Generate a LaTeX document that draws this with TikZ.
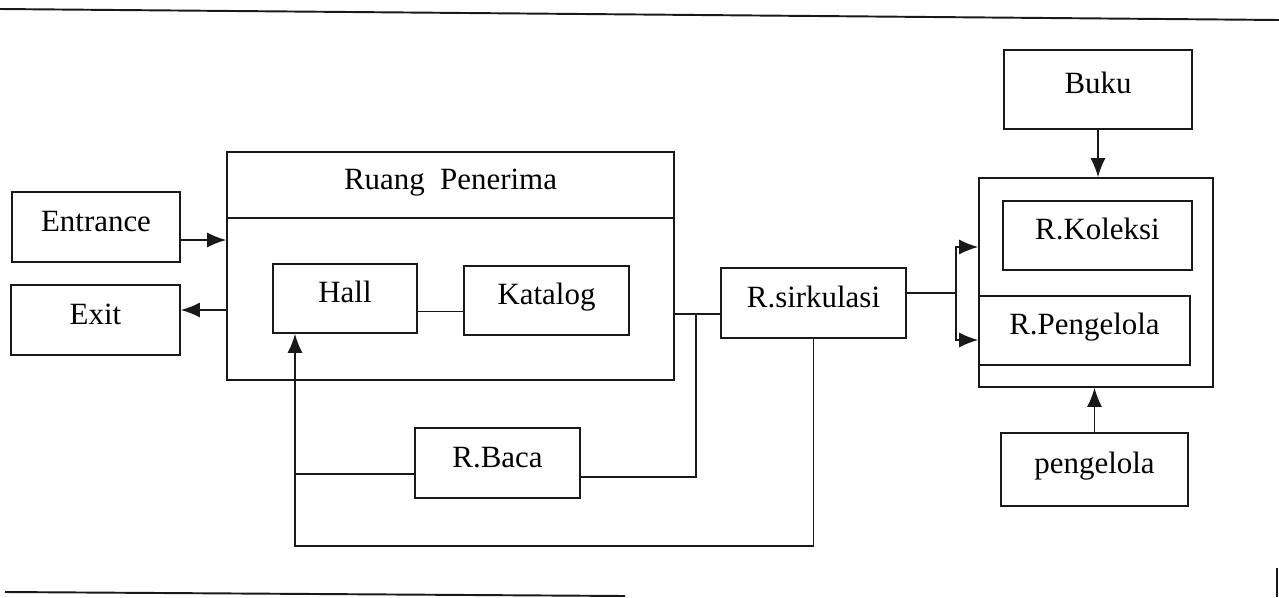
\documentclass[tikz,border=0pt]{standalone}
\usepackage{fontspec}
\setmainfont{Liberation Serif}
\usetikzlibrary{arrows.meta}
\definecolor{GarisClr}{rgb}{0.1,0.1,0.1}

\begin{document}
\begin{tikzpicture}[
  kotak/.style={draw=GarisClr,line width=.9pt,inner sep=0pt,text height=.7em,text depth=.2em,font=\fontsize{17.6}{21}\selectfont},
  panah/.style={-{Latex[length=3.8mm,width=3mm]},line width=.9pt,draw=GarisClr},
  garis/.style={line width=.9pt,draw=GarisClr}]
\useasboundingbox (0,0) rectangle (25.58,11.94);

\draw[line width=1.1pt,GarisClr] (0,11.76) -- (25.58,11.54);
\draw[line width=1.1pt,GarisClr] (0.1,0.1) -- (12.5,0.02);
\draw[line width=.6pt,GarisClr] (25.54,0.58) -- (25.54,0);

\node[kotak,minimum width=3.36cm,minimum height=1.40cm] (ent) at (1.92,7.40) {Entrance};
\node[kotak,minimum width=3.38cm,minimum height=1.40cm] (ex) at (1.91,5.54) {Exit};

\node[kotak,minimum width=8.94cm,minimum height=4.56cm] (rp) at (9.01,6.62) {};
\node[kotak,minimum width=8.94cm,minimum height=1.32cm] (judul) at (9.01,8.24) {Ruang\hspace{.25em} Penerima};
\node[kotak,minimum width=2.88cm,minimum height=1.38cm] (hall) at (6.90,5.97) {Hall};
\node[kotak,minimum width=3.30cm,minimum height=1.38cm] (kat) at (10.93,5.93) {Katalog};

\node[kotak,minimum width=3.70cm,minimum height=1.40cm] (rsir) at (16.27,5.88) {R.sirkulasi};
\node[kotak,minimum width=3.30cm,minimum height=1.40cm] (baca) at (9.95,2.68) {R.Baca};

\node[kotak,minimum width=4.68cm,minimum height=4.18cm] (rk) at (21.92,6.29) {};
\node[kotak,minimum width=3.78cm,minimum height=1.38cm] (kol) at (21.95,7.23) {R.Koleksi};
\node[kotak,minimum width=4.22cm,minimum height=1.38cm] (rpg) at (21.69,5.33) {R.Pengelola};
\node[kotak,minimum width=3.76cm,minimum height=1.58cm] (buku) at (21.96,10.15) {Buku};
\node[kotak,minimum width=3.74cm,minimum height=1.46cm] (pgl) at (21.89,2.55) {pengelola};

\coordinate (cab) at (13.92,5.66);
\coordinate (bawah) at (5.90,1.02);
\coordinate (atas) at (19.12,7.00);
\coordinate (bwh) at (19.12,5.14);

\draw[panah] ([yshift=-.26cm]ent.east) -- ([yshift=-.26cm]ent.east -| rp.west);
\draw[panah] ([yshift=.2cm]ex.east -| rp.west) -- ([yshift=.2cm]ex.east);
\draw[garis] ([yshift=-.26cm]hall.east) -- ([yshift=-.26cm]hall.east -| kat.west);

\draw[garis] (rp.east |- cab) -- (rsir.west |- cab);
\draw[garis] (cab) |- ([yshift=-.28cm]baca.east);
\draw[garis] ([yshift=-.22cm]baca.west) -- ([yshift=-.22cm]baca.west -| bawah);
\draw[panah] (rsir.south) |- (bawah) -- ([xshift=-1cm]hall.south);

\draw[garis] ([yshift=.2cm]rsir.east) -- ([yshift=.2cm]rsir.east -| atas);
\draw[{Latex[length=3.8mm,width=3mm]}-{Latex[length=3.8mm,width=3mm]},garis] (atas -| rk.west) -- (atas) -- (bwh) -- (bwh -| rk.west);
\draw[panah] (buku) -- (buku |- rk.north);
\draw[panah] (pgl) -- (pgl |- rk.south);

\end{tikzpicture}
\end{document}
